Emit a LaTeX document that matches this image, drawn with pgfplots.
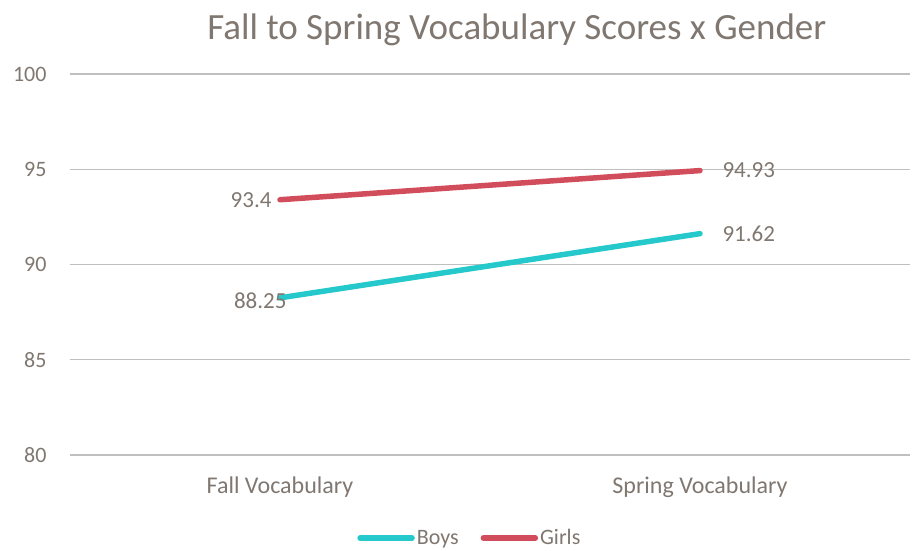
\documentclass[border=0pt]{standalone}
\usepackage{pgfplots}
\pgfplotsset{compat=1.18}
\usepackage{fontspec}
\setmainfont{Carlito}
\definecolor{boys}{HTML}{26C9CB}
\definecolor{girls}{HTML}{D24D5B}
\definecolor{txt}{HTML}{7F7770}
\definecolor{grid}{HTML}{E0E0E0}
\begin{document}
\begin{tikzpicture}[x=1pt,y=1pt]
\useasboundingbox (0,0) rectangle (914,550);
\begin{axis}[
  at={(70pt,95pt)}, anchor=south west,
  scale only axis, width=840pt, height=381pt,
  xmin=-0.5, xmax=1.5, ymin=80, ymax=100,
  xtick={0,1}, xticklabels={Fall Vocabulary, Spring Vocabulary},
  ytick={80,85,90,95,100},
  axis line style={draw=none},
  xtick style={draw=none}, ytick style={draw=none},
  major tick length=0pt,
  ymajorgrids, xmajorgrids=false, grid style={grid, line width=1.3pt},
  tick label style={font=\fontsize{22}{26}\selectfont, text=txt},
  /pgf/number format/assume math mode=true,
  yticklabel style={xshift=-20pt},
  xticklabel style={anchor=center, yshift=-32pt, font=\fontsize{24}{28}\selectfont},
  title={Fall to Spring Vocabulary Scores x Gender},
  title style={font=\fontsize{37}{42}\selectfont, text=txt, at={(0.532,1)}, yshift=38pt, anchor=center},
  legend style={at={(0.476,-0.218)}, anchor=center, draw=none, legend columns=2,
    font=\fontsize{22}{26}\selectfont, text=txt, inner sep=0pt,
    /tikz/every even column/.append style={column sep=20pt}},
  legend image code/.code={\draw[#1, line width=5.5pt, line cap=round] (0pt,0pt) -- (52pt,0pt);},
  clip=false,
]
\addplot[boys, line width=5.5pt, line cap=round] coordinates {(0,88.25) (1,91.62)};
\addlegendentry{Boys}
\addplot[girls, line width=5.5pt, line cap=round] coordinates {(0,93.4) (1,94.93)};
\addlegendentry{Girls}
\pgfplotsset{every node near coord/.append style={font=\fontsize{23}{27}\selectfont, text=txt}}
\addplot[draw=none, forget plot, nodes near coords, point meta=explicit symbolic,
  every node near coord/.append style={anchor=east, xshift=-5pt}]
  coordinates {(0,93.4) [93.4]};
\addplot[draw=none, forget plot, nodes near coords, point meta=explicit symbolic,
  every node near coord/.append style={anchor=east, xshift=10pt, yshift=-3pt}]
  coordinates {(0,88.25) [88.25]};
\addplot[draw=none, forget plot, nodes near coords, point meta=explicit symbolic,
  every node near coord/.append style={anchor=west, xshift=19pt}]
  coordinates {(1,94.93) [94.93] (1,91.62) [91.62]};
\end{axis}
\end{tikzpicture}
\end{document}
